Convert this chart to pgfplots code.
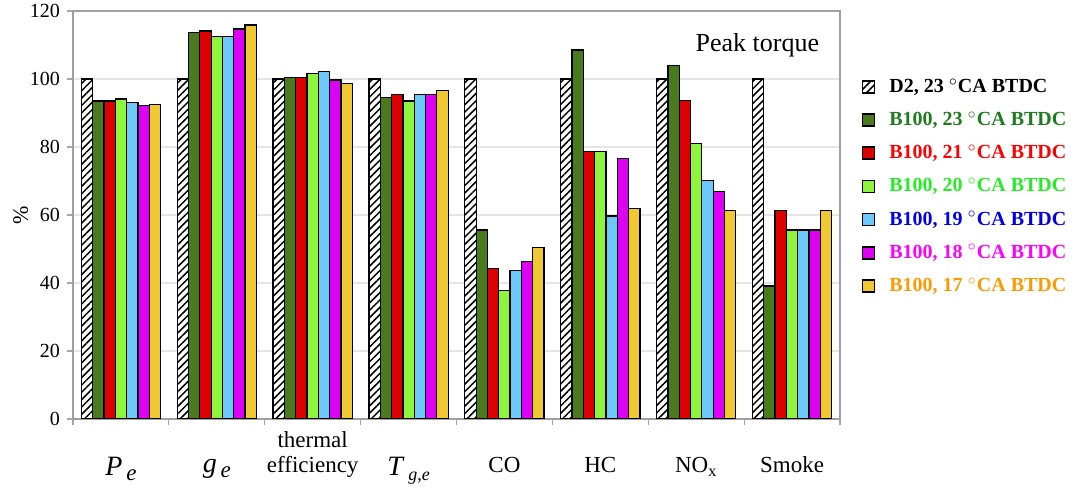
\documentclass[border=0pt]{standalone}
\usepackage{fontspec}
\setmainfont{Liberation Serif}
\usepackage{pgfplots}
\pgfplotsset{compat=1.18}
\usetikzlibrary{patterns.meta}
\definecolor{cDG}{HTML}{4A7A1E}
\definecolor{cR}{HTML}{DD0000}
\definecolor{cL}{HTML}{8CF53C}
\definecolor{cB}{HTML}{6CC8FA}
\definecolor{cM}{HTML}{DD00F5}
\definecolor{cO}{HTML}{F0C832}
\definecolor{tG}{HTML}{1E7B1E}
\definecolor{tR}{HTML}{FF0000}
\definecolor{tL}{HTML}{22EE22}
\definecolor{tB}{HTML}{0000EE}
\definecolor{tM}{HTML}{FF00FF}
\definecolor{tO}{HTML}{FF9900}
\begin{document}
\begin{tikzpicture}
\path[use as bounding box] (-36.5pt,-38.5pt) rectangle (501pt,209.5pt);
\begin{axis}[
  scale only axis, width=383.5pt, height=204pt,
  ybar=0pt, bar width=0.118,
  xmin=-0.5, xmax=7.5, ymin=0, ymax=120,
  ytick={0,20,...,120},
  xtick={0,...,7},
  xticklabels={
    {\strut\\{\fontsize{14}{14}\selectfont\textit{P}}\,\raisebox{-0.5ex}{\textit{e}}},
    {\strut\\{\fontsize{14}{14}\selectfont\textit{g}}\,\raisebox{-0.5ex}{\textit{e}}},
    {\strut thermal\\efficiency},
    {\strut\\{\fontsize{14}{14}\selectfont\textit{T}}\,\raisebox{-0.5ex}{\small\textit{g,e}}},
    {\strut\\CO},
    {\strut\\HC},
    {\strut\\NO\textsubscript{x}},
    {\strut\\Smoke}},
  xticklabel style={font=\fontsize{11.5}{12.5}\selectfont, align=center, anchor=north, yshift=1pt},
  yticklabel style={font=\fontsize{10}{12}\selectfont},
  /pgf/number format/assume math mode=true,
  major x tick style={draw=none},
  minor xtick={-0.5,0.5,...,7.5},
  minor tick length=3pt, major tick length=3pt,
  tick align=outside,
  xtick pos=bottom, ytick pos=left,
  tick style={gray!70, line width=0.6pt},
  ymajorgrids, grid style={gray!20, line width=0.8pt},
  axis line style={gray!75, line width=1.1pt},
  ylabel={\%}, ylabel style={font=\fontsize{11}{12}\selectfont, yshift=-6pt},
  every axis plot/.append style={draw=black, line width=0.6pt},
  legend style={at={(1.02,0.855)}, anchor=north west, draw=none, fill=none,
    font=\bfseries\fontsize{10}{12}\selectfont, row sep=4.2pt,
    /tikz/every odd column/.append style={column sep=5pt}},
  legend cell align=left,
  legend image code/.code={\draw[#1, line width=0.8pt] (0pt,-3pt) rectangle (6pt,3pt);},
]
\addplot[fill=white, postaction={pattern={Lines[angle=45,distance=2.6pt,line width=0.75pt]}}] coordinates {(0,100) (1,100) (2,100) (3,100) (4,100) (5,100) (6,100) (7,100)};
\addplot[fill=cDG] coordinates {(0,93.5) (1,113.6) (2,100.4) (3,94.6) (4,55.6) (5,108.5) (6,104.0) (7,39.1)};
\addplot[fill=cR] coordinates {(0,93.5) (1,114.1) (2,100.4) (3,95.5) (4,44.2) (5,78.6) (6,93.6) (7,61.3)};
\addplot[fill=cL] coordinates {(0,94.1) (1,112.6) (2,101.5) (3,93.5) (4,37.9) (5,78.6) (6,81.1) (7,55.6)};
\addplot[fill=cB] coordinates {(0,93.0) (1,112.6) (2,102.1) (3,95.5) (4,43.6) (5,59.7) (6,70.1) (7,55.6)};
\addplot[fill=cM] coordinates {(0,92.1) (1,114.7) (2,99.7) (3,95.5) (4,46.3) (5,76.7) (6,66.9) (7,55.6)};
\addplot[fill=cO] coordinates {(0,92.5) (1,115.9) (2,98.7) (3,96.7) (4,50.5) (5,61.8) (6,61.4) (7,61.3)};
\legend{{D2, 23 $^{\circ}$CA BTDC},
  {\textcolor{tG}{B100, 23 $^{\circ}$CA BTDC}},
  {\textcolor{tR}{B100, 21 $^{\circ}$CA BTDC}},
  {\textcolor{tL}{B100, 20 $^{\circ}$CA BTDC}},
  {\textcolor{tB}{B100, 19 $^{\circ}$CA BTDC}},
  {\textcolor{tM}{B100, 18 $^{\circ}$CA BTDC}},
  {\textcolor{tO}{B100, 17 $^{\circ}$CA BTDC}}}
\node[anchor=east, font=\fontsize{13}{15}\selectfont] at (rel axis cs:0.982,0.917) {Peak torque};
\end{axis}
\end{tikzpicture}
\end{document}
